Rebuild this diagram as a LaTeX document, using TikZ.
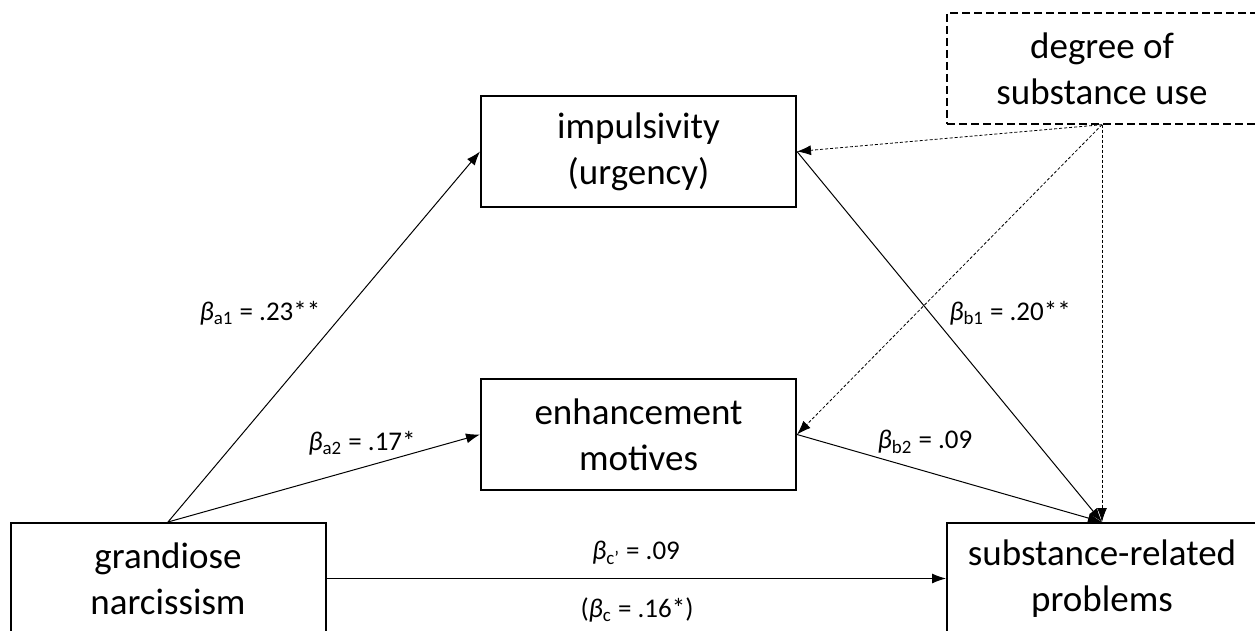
\documentclass[tikz,border=0pt]{standalone}
\usepackage{fontspec}
\setmainfont{Carlito}
\usepackage{tikz}
\usetikzlibrary{arrows.meta,positioning}

\begin{document}
\begin{tikzpicture}[
    x=0.5pt, y=-0.5pt,
    box/.style={rectangle, draw, line width=1pt, minimum width=157.5pt, minimum height=55.5pt, align=center, font=\fontsize{18.5}{23}\selectfont, inner sep=2pt},
    modbox/.style={box, line width=0.7pt, dash pattern=on 4pt off 2pt},
    arrow/.style={-{Latex[length=7pt,width=5pt]}, line width=0.5pt},
    modarrow/.style={arrow, dash pattern=on 1.5pt off 1pt, line width=0.4pt},
    coef/.style={font=\fontsize{13.5}{16}\selectfont, inner sep=1pt}
]

\clip (0,0) rectangle (1255,631);

% ── Boxes ──
\node[box] (imp) at (638.5,151.5) {impulsivity\\(urgency)};
\node[box] (enh) at (638.5,434.5) {enhancement\\motives};
\node[box] (narc) at (168,578.5) {grandiose\\narcissism};
\node[box, minimum width=155pt] (prob) at (1102,578.5) {substance-related\\problems};

% ── Moderator ──
\node[modbox, minimum width=155pt] (use) at (1102,68.5) {degree of\\substance use};

% ── Paths ──
\draw[arrow] (narc.north) -- (imp.west);
\draw[arrow] (narc.north) -- (enh.west);
\draw[arrow] (narc.east) -- (prob.west);
\draw[arrow] (imp.east) -- (prob.north);
\draw[arrow] (enh.east) -- (prob.north);

% ── Moderation (dashed) ──
\draw[modarrow] (use.south) -- (imp.east);
\draw[modarrow] (use.south) -- (enh.east);
\draw[modarrow] (use.south) -- (prob.north);

% ── Coefficients ──
\node[coef] (a1) at (260,313) {{\itshape β}\textsubscript{a1} = .23**};
\node[coef] (a2) at (362,443) {{\itshape β}\textsubscript{a2} = .17*};
\node[coef] (b1) at (1010,313) {{\itshape β}\textsubscript{b1} = .20**};
\node[coef] (b2) at (925,442) {{\itshape β}\textsubscript{b2} = .09};
\node[coef] (c1) at (636,553) {{\itshape β}\textsubscript{c'} = .09};
\node[coef] (c0) at (637,610) {({\itshape β}\textsubscript{c} = .16*)};

\end{tikzpicture}
\end{document}
